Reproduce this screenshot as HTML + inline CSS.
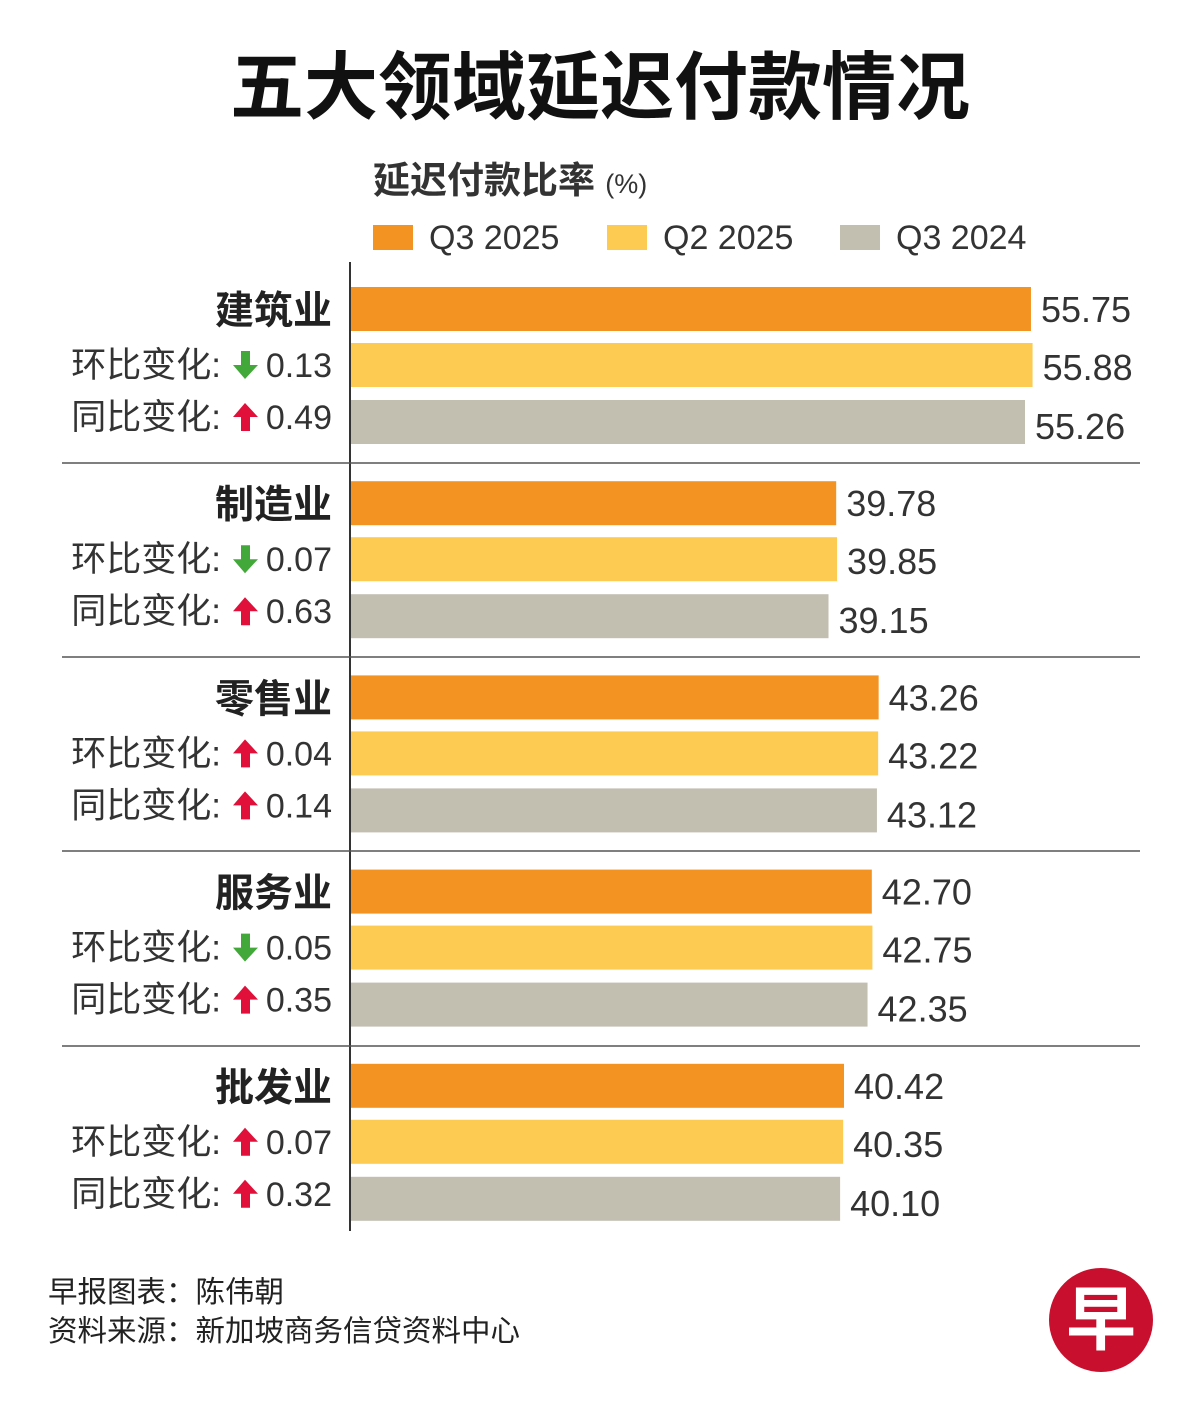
<!DOCTYPE html>
<html><head><meta charset="utf-8">
<style>
body{margin:0;background:#fff;}
#root{position:relative;width:1200px;height:1420px;overflow:hidden;background:#fff;font-family:"Liberation Sans","Noto Sans CJK SC",sans-serif;color:#222;}
.abs{position:absolute;white-space:nowrap;}
</style></head><body>
<div id="root">
<div class="abs" style="left:0;width:1200px;text-align:center;top:40px;font-size:74px;font-weight:bold;line-height:96px;color:#111;">五大领域延迟付款情况</div>
<div class="abs" style="left:373px;top:157px;font-size:37px;font-weight:bold;line-height:48px;color:#333;">延迟付款比率 <span style="font-size:27px;font-weight:normal;">(%)</span></div>
<div id="legend"></div>
<svg id="chart" width="1200" height="1420" style="position:absolute;left:0;top:0;font-family:'Liberation Sans','Noto Sans CJK SC',sans-serif;"></svg>
<div class="abs" style="left:48px;top:1275px;font-size:29.5px;line-height:36px;color:#222;">早报图表：陈伟朝</div>
<div class="abs" style="left:48px;top:1314px;font-size:29.5px;line-height:36px;color:#222;">资料来源：新加坡商务信贷资料中心</div>
<div class="abs" style="left:1049px;top:1268px;width:104px;height:104px;border-radius:50%;background:#c8102e;color:#fff;font-size:70px;font-weight:bold;text-align:center;line-height:104px;">早</div>
</div>
<script>
const categories=["建筑业","制造业","零售业","服务业","批发业"];
const seriesNames=["Q3 2025","Q2 2025","Q3 2024"];
const q3_2025=[55.75,39.78,43.26,42.70,40.42];
const q2_2025=[55.88,39.85,43.22,42.75,40.35];
const q3_2024=[55.26,39.15,43.12,42.35,40.10];
const qoqChange=["0.13","0.07","0.04","0.05","0.07"];
const qoqDir=[-1,-1,1,-1,1];
const yoyChange=["0.49","0.63","0.14","0.35","0.32"];
const yoyDir=[1,1,1,1,1];

const colors=["#F39422","#FDCB52","#C2BFB1"];
const NS="http://www.w3.org/2000/svg";
const svg=document.getElementById('chart');
const x0=351, scale=12.197;
const xScale=v=>x0+v*scale;
const groupTop=i=>287+i*194.2;
const barOffsets=[0,56,113], barH=44;
function mk(tag,attrs){const e=document.createElementNS(NS,tag);for(const k in attrs)e.setAttribute(k,attrs[k]);svg.appendChild(e);return e;}

const leg=document.getElementById('legend');
const legX=[373,607,840];
seriesNames.forEach((n,i)=>{
  const s=document.createElement('div');
  s.className='abs';
  
  
  s.style.cssText=`left:${legX[i]}px;top:215px;font-size:34px;line-height:46px;color:#333;`;
  s.innerHTML=`<span style="display:inline-block;width:40px;height:25px;background:${colors[i]};vertical-align:middle;margin-right:16px;position:relative;top:-3px"></span>${n}`;
  leg.appendChild(s);
});

const ax=mk('line',{x1:350,y1:262,x2:350,y2:1231,stroke:'#333','stroke-width':2});



const series=[q3_2025,q2_2025,q3_2024];
function arrow(x,y,dir,name){
  const g=mk('g',{});
  
  
  const c=dir>0?'#e0103a':'#43a83a';
  const p=document.createElementNS(NS,'path');
  const d=dir>0?`M${x+12},${y-14} L${x+25},${y} L${x+17},${y} L${x+17},${y+14} L${x+8},${y+14} L${x+8},${y} L${x},${y} Z`
               :`M${x+12},${y+14} L${x+25},${y} L${x+17},${y} L${x+17},${y-14} L${x+8},${y-14} L${x+8},${y} L${x},${y} Z`;
  p.setAttribute('d',d);p.setAttribute('fill',c);g.appendChild(p);
}
categories.forEach((cat,i)=>{
  const gt=groupTop(i);
  series.forEach((arr,s)=>{
    const y=gt+barOffsets[s];
    const r=mk('rect',{x:x0,y:y,width:xScale(arr[i])-x0,height:barH,fill:colors[s]});
    
    
    const t=mk('text',{x:xScale(arr[i])+10,y:y+barH/2+13+s*2,'font-size':36,fill:'#333'});
    t.textContent=arr[i].toFixed(2);
    
    
  });
  const cl=mk('text',{x:332,y:gt+37,'font-size':39,'font-weight':'bold','text-anchor':'end',fill:'#222'});
  cl.textContent=cat;
  
  
  [[qoqChange,qoqDir,'环比变化:',gt+78],[yoyChange,yoyDir,'同比变化:',gt+130]].forEach(([vals,dirs,lab,yy],k)=>{
    const v=mk('text',{x:332,y:yy+12,'font-size':34,'text-anchor':'end',fill:'#333'});
    v.textContent=vals[i];
    
    
    arrow(233,yy,dirs[i],k?'yoy-arrow':'qoq-arrow');
    const l=mk('text',{x:221,y:yy+12,'font-size':35,'text-anchor':'end',fill:'#333'});
    l.textContent=lab;
    
    
  });
  if(i<categories.length-1){
    const sy=Math.round(gt+176);
    const ln=mk('line',{x1:62,y1:sy,x2:1140,y2:sy,stroke:'#555','stroke-width':1.5});
    
    
  }
});
</script>
</body></html>
